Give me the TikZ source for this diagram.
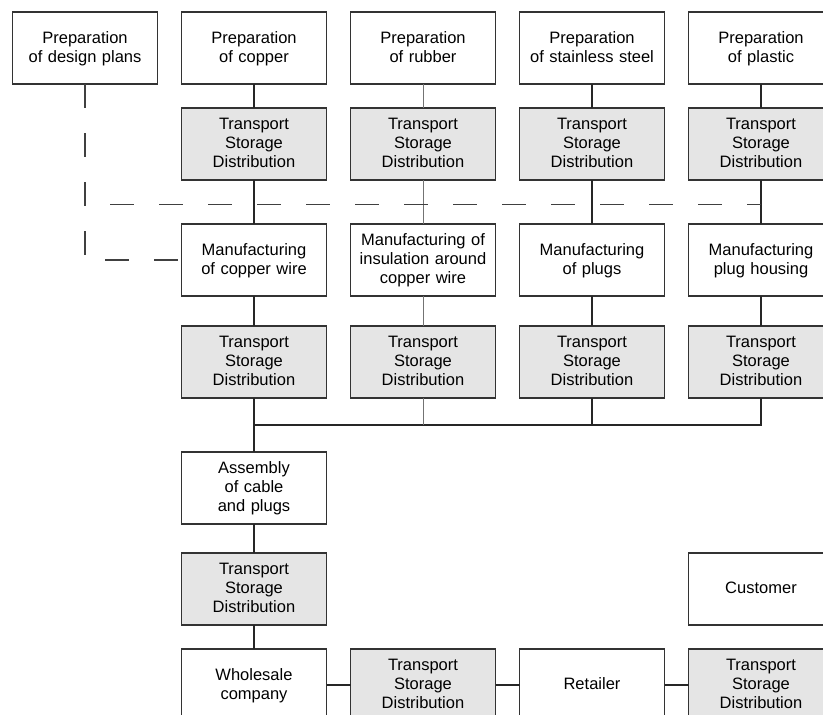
\documentclass[tikz,border=0pt]{standalone}
\usepackage{fontspec}
\setmainfont{Liberation Sans}
\usetikzlibrary{positioning,calc}
\tikzset{
    stage/.style={
      rectangle,
           draw=black!80, line width=1.2pt,
           fill=white,
           inner sep=0pt, outer sep=0pt,
           align=center,
           text width=140pt,
           minimum width=145pt,
           minimum height=72pt,
           font=\fontsize{16.5}{19}\selectfont,
           execute at begin node=\rule{0pt}{12.5pt},
           execute at end node=\rule[-3.5pt]{0pt}{3.5pt},
           },
}
\tikzset{
    transport/.style={
      rectangle,
           draw=black!80, line width=1.2pt,
           fill=black!10,
           inner sep=0pt, outer sep=0pt,
           align=center,
           text width=140pt,
           minimum width=145pt,
           minimum height=72pt,
           font=\fontsize{16.5}{19}\selectfont,
           execute at begin node=\rule{0pt}{12.5pt},
           execute at end node=\rule[-3.5pt]{0pt}{3.5pt},
           },
}
\tikzset{
    link/.style={draw=black!85, line width=1.1pt},
    linkfaded/.style={draw=black!55, line width=0.7pt},
    plan/.style={draw=black!75, line width=1.1pt, dash pattern=on 24pt off 25pt},
}

\begin{document}
\begin{tikzpicture}[x=1pt,y=1pt]

\useasboundingbox (0,0) rectangle (823,-715);
\clip (0,0) rectangle (823,-715);

\node[stage](plans) at (85,-48){Preparation\\of design plans};
\node[stage,right = 24pt of plans](copper){Preparation\\of copper};
\node[stage,right = 24pt of copper](rubber){Preparation\\of rubber};
\node[stage,right = 24pt of rubber](steel){Preparation\\of stainless steel};
\node[stage,right = 24pt of steel](plastic){Preparation\\of plastic};

\node[transport,below = 24pt of copper](tcopper){Transport\\Storage\\Distribution};
\node[transport,below = 24pt of rubber](trubber){Transport\\Storage\\Distribution};
\node[transport,below = 24pt of steel](tsteel){Transport\\Storage\\Distribution};
\node[transport,below = 24pt of plastic](tplastic){Transport\\Storage\\Distribution};

\node[stage,below = 44pt of tcopper](wire){Manufacturing\\of copper wire};
\node[stage,below = 44pt of trubber](insul){Manufacturing of\\insulation around\\copper wire};
\node[stage,below = 44pt of tsteel](plugs){Manufacturing\\of plugs};
\node[stage,below = 44pt of tplastic](housing){Manufacturing\\plug housing};

\path (copper) edge[link](tcopper);
\path (tcopper) edge[link](wire);
\path (rubber) edge[linkfaded](trubber);
\path (trubber) edge[linkfaded](insul);
\path (steel) edge[link](tsteel);
\path (tsteel) edge[link](plugs);
\path (plastic) edge[link](tplastic);
\path (tplastic) edge[link](housing);

\coordinate (fork) at ($(tcopper.south)!0.55!(wire.north)$);
\draw[plan] (plans.south) |- (wire.west);
\draw[plan,dash phase=24pt] (plans.south |- fork) -- (tplastic.south |- fork);

\node[transport,below = 30pt of wire](twire){Transport\\Storage\\Distribution};
\node[transport,below = 30pt of insul](tinsul){Transport\\Storage\\Distribution};
\node[transport,below = 30pt of plugs](tplugs){Transport\\Storage\\Distribution};
\node[transport,below = 30pt of housing](thousing){Transport\\Storage\\Distribution};

\path (wire) edge[link](twire);
\path (insul) edge[linkfaded](tinsul);
\path (plugs) edge[link](tplugs);
\path (housing) edge[link](thousing);

\node[stage,below = 54pt of twire](assembly){Assembly\\of cable\\and plugs};
\coordinate (bus) at ($(twire.south)!0.5!(assembly.north)$);

\path (twire) edge[link](assembly);
\draw[link] (thousing.south) |- (bus);
\draw[linkfaded] (tinsul.south) -- (tinsul.south |- bus);
\draw[link] (tplugs.south) -- (tplugs.south |- bus);

\node[transport,below = 29pt of assembly](tassembly){Transport\\Storage\\Distribution};
\node[stage](customer) at (tassembly -| plastic){Customer};

\node[stage,below = 24pt of tassembly](wholesale){Wholesale\\company};
\node[transport,right = 24pt of wholesale](twholesale){Transport\\Storage\\Distribution};
\node[stage,right = 24pt of twholesale](retailer){Retailer};
\node[transport,right = 24pt of retailer](tretailer){Transport\\Storage\\Distribution};

\path (assembly) edge[link](tassembly);
\path (tassembly) edge[link](wholesale);
\path (wholesale) edge[link](twholesale);
\path (twholesale) edge[link](retailer);
\path (retailer) edge[link](tretailer);

\end{tikzpicture}
\end{document}
